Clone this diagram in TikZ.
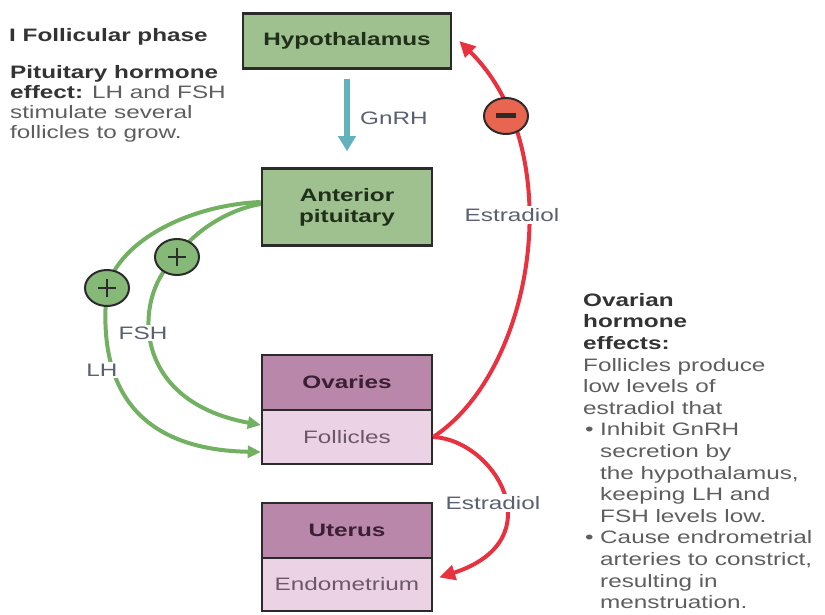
\documentclass[tikz,border=0pt]{standalone}
\usepackage{fontspec}
\setmainfont[FakeStretch=1.35]{Liberation Sans}
\usetikzlibrary{arrows.meta,shapes.geometric}
\definecolor{gbox}{HTML}{9FC18F}
\definecolor{gtext}{HTML}{1F2F1A}
\definecolor{pdark}{HTML}{B887A9}
\definecolor{plight}{HTML}{EBD2E4}
\definecolor{ptext}{HTML}{3B1F33}
\definecolor{pltext}{HTML}{6B5868}
\definecolor{bordc}{HTML}{2B2B2B}
\definecolor{tealc}{HTML}{62B1BD}
\definecolor{redc}{HTML}{E8323F}
\definecolor{minusc}{HTML}{E8654F}
\definecolor{greenc}{HTML}{72B062}
\definecolor{plusc}{HTML}{86B878}
\definecolor{titc}{HTML}{333333}
\definecolor{txtc}{HTML}{5E5E5E}
\definecolor{lblc}{HTML}{5A6070}
\begin{document}
\begin{tikzpicture}[x=1pt,y=-1pt,
  box/.style={draw=bordc, line width=2.5pt, minimum width=170pt, inner sep=0pt, align=center,
    font=\bfseries\fontsize{18}{21}\selectfont},
  lbl/.style={text=lblc, font=\fontsize{18}{20}\selectfont, inner sep=2pt},
  lblw/.style={lbl, fill=white},
  redline/.style={draw=redc, line width=4pt, -{Triangle[length=16pt,width=15pt]}},
  greenline/.style={draw=greenc, line width=4pt, -{Triangle[length=13pt,width=12pt]}},
  plusn/.style={ellipse, draw=bordc, line width=2pt, fill=plusc, minimum width=44pt, minimum height=36pt,
    path picture={\draw[line width=2.5pt, bordc]
      ([xshift=-9pt]path picture bounding box.center) -- ([xshift=9pt]path picture bounding box.center)
      ([yshift=-9pt]path picture bounding box.center) -- ([yshift=9pt]path picture bounding box.center);}},
  minusn/.style={ellipse, draw=bordc, line width=2pt, fill=minusc, minimum width=44pt, minimum height=36pt,
    path picture={\draw[line width=5pt, bordc]
      ([xshift=-10pt]path picture bounding box.center) -- ([xshift=10pt]path picture bounding box.center);}},
  txt/.style={inner sep=0pt, align=left, text=txtc}
]
\useasboundingbox (0,0) rectangle (825,615);
\fill[white] (0,0) rectangle (825,615);

% boxes
\node[box, fill=gbox, text=gtext, minimum width=208pt, minimum height=55pt] (hyp) at (347,41) {Hypothalamus};
\node[box, fill=gbox, text=gtext, minimum height=77pt] (ant) at (347,207) {Anterior\\pituitary};
\node[box, fill=pdark, text=ptext, minimum height=55pt] (ova) at (347,382.5) {Ovaries};
\node[box, fill=plight, text=pltext, minimum height=54pt, font=\fontsize{18}{21}\selectfont] (fol) at (347,437) {Follicles};
\node[box, fill=pdark, text=ptext, minimum height=55pt] (ute) at (347,530.5) {Uterus};
\node[box, fill=plight, text=pltext, minimum height=53pt, font=\fontsize{18}{21}\selectfont] (endo) at (347,584.5) {Endometrium};

% GnRH
\draw[draw=tealc, line width=6pt, -{Triangle[length=15pt,width=17pt]}, shorten <=9pt, shorten >=16pt] (hyp) -- (ant);
\node[lbl, anchor=west] (gnrh) at (358,118) {GnRH};

% red feedback
\coordinate (mpos) at (506,116);
\draw[redline] (fol.east) .. controls (535,370) and (570,150) .. ([shift={(7,0)}]hyp.east);
\node[minusn] (minus) at (mpos) {};
\node[lblw] (estr1) at (512,215) {Estradiol};

\draw[redline] (fol.east) .. controls (495,440) and (555,540) .. ([shift={(6,-7)}]endo.east);
\node[lblw] (estr2) at (493,503) {Estradiol};

% green stimulation
\coordinate (p1) at (107,288);
\coordinate (p2) at (177,257);
\draw[greenline] ([shift={(0,-5)}]ant.west) .. controls (190,205) and (120,240) .. (p1)
   .. controls (95,400) and (150,450) .. ([shift={(0,15)}]fol.west);
\draw[greenline] ([shift={(0,-3)}]ant.west) .. controls (225,210) and (190,235) .. (p2)
   .. controls (135,290) and (125,400) .. ([shift={(0,-12)}]fol.west);
\node[plusn] (plus1) at (p1) {};
\node[plusn] (plus2) at (p2) {};
\node[lblw] (lh) at (102,370) {LH};
\node[lblw] (fsh) at (143,333) {FSH};

% left text
\node[txt, anchor=west, text=titc, font=\bfseries\fontsize{18}{20}\selectfont] (title) at (9,37) {I Follicular phase};
\node[txt, anchor=north west, font=\fontsize{18}{20}\selectfont] (pit) at (10,65)
 {{\color{titc}\bfseries Pituitary hormone}\\{\color{titc}\bfseries effect:} LH and FSH\\stimulate several\\follicles to grow.};

% right text
\node[txt, anchor=north west, font=\fontsize{18}{21.6}\selectfont] (ovtxt) at (583,293)
 {{\color{titc}\bfseries Ovarian}\\{\color{titc}\bfseries hormone}\\{\color{titc}\bfseries effects:}\\
  Follicles produce\\low levels of\\estradiol that\\
  \makebox[17pt][l]{\hspace{2pt}\textbullet}Inhibit GnRH\\\hspace*{17pt}secretion by\\\hspace*{17pt}the hypothalamus,\\
  \hspace*{17pt}keeping LH and\\\hspace*{17pt}FSH levels low.\\
  \makebox[17pt][l]{\hspace{2pt}\textbullet}Cause endrometrial\\\hspace*{17pt}arteries to constrict,\\
  \hspace*{17pt}resulting in\\\hspace*{17pt}menstruation.};
\end{tikzpicture}
\end{document}
